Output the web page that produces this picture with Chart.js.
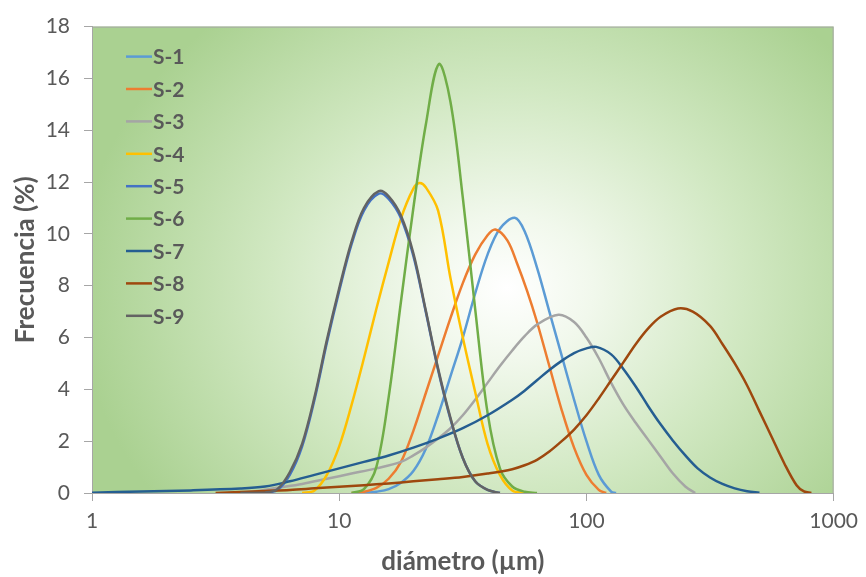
<!DOCTYPE html>
<html>
<head>
<meta charset="utf-8">
<script src="https://cdn.jsdelivr.net/npm/chart.js@4.4.1/dist/chart.umd.min.js"></script>
<style>
  html, body { margin: 0; padding: 0; background: #ffffff; }
  #wrap { width: 866px; height: 577px; }
</style>
</head>
<body>
<div id="wrap"><canvas id="chart" width="866" height="577"></canvas></div>
<script>
// Particle size distributions: diameter (µm) vs. volume frequency (%)
const seriesNames = ['S-1', 'S-2', 'S-3', 'S-4', 'S-5', 'S-6', 'S-7', 'S-8', 'S-9'];
const seriesColors = ['#5B9BD5', '#ED7D31', '#A5A5A5', '#FFC000', '#4472C4', '#70AD47', '#255E91', '#9E480E', '#636363'];

const s1Diam = [12.59, 14.13, 15.85, 17.78, 19.95, 22.39, 25.12, 28.18, 31.62, 35.48, 39.81, 44.67, 51.29, 56.23, 63.10, 70.79, 79.43, 89.13, 100.0, 112.2, 125.9, 131.8];
const s1Freq = [0, 0.05, 0.15, 0.4, 0.85, 1.7, 3.0, 4.5, 6.0, 7.7, 9.2, 10.2, 10.62, 10.1, 8.7, 7.0, 5.3, 3.6, 2.0, 0.7, 0.05, 0];

const s2Diam = [11.22, 12.59, 14.13, 15.85, 17.78, 19.95, 22.39, 25.12, 28.18, 31.62, 35.48, 39.81, 42.85, 47.86, 52.48, 57.54, 63.10, 70.79, 79.43, 89.13, 100.0, 112.2, 120.2];
const s2Freq = [0, 0.05, 0.2, 0.55, 1.2, 2.4, 3.85, 5.3, 6.75, 8.1, 9.2, 9.95, 10.17, 9.75, 8.85, 7.8, 6.6, 4.9, 3.2, 1.75, 0.7, 0.12, 0];

const s3Diam = [3.548, 4.467, 5.623, 7.079, 8.913, 11.22, 14.13, 17.78, 19.95, 22.39, 25.12, 28.18, 31.62, 35.48, 39.81, 44.67, 50.12, 56.23, 63.10, 77.09, 89.13, 100.0, 112.2, 125.9, 141.3, 158.5, 177.8, 199.5, 223.9, 251.2, 275.4];
const s3Freq = [0, 0.05, 0.2, 0.35, 0.55, 0.75, 0.95, 1.2, 1.45, 1.75, 2.1, 2.5, 3.0, 3.6, 4.25, 4.9, 5.5, 6.05, 6.5, 6.88, 6.6, 6.0, 5.2, 4.25, 3.4, 2.7, 2.05, 1.4, 0.75, 0.25, 0];

const s4Diam = [7.079, 7.943, 8.913, 10.0, 11.22, 12.59, 14.13, 15.85, 17.78, 19.95, 21.13, 22.39, 25.12, 28.18, 31.62, 35.48, 39.81, 44.67, 50.12, 56.23];
const s4Freq = [0, 0.1, 0.7, 1.8, 3.4, 5.2, 7.1, 8.9, 10.6, 11.75, 11.96, 11.8, 10.9, 8.3, 6.0, 3.9, 1.9, 0.7, 0.1, 0];

const s5Diam = [3.981, 5.012, 5.623, 6.310, 7.079, 7.943, 8.913, 10.0, 11.22, 12.59, 14.45, 15.85, 17.78, 19.95, 22.39, 25.12, 28.18, 31.62, 35.48, 39.81, 44.67];
const s5Freq = [0, 0.02, 0.12, 0.7, 1.8, 3.6, 5.8, 7.8, 9.6, 10.9, 11.55, 11.35, 10.6, 9.15, 7.0, 4.75, 2.85, 1.35, 0.45, 0.12, 0];

const s6Diam = [11.22, 12.59, 14.13, 15.85, 17.78, 19.95, 22.39, 25.29, 28.18, 31.62, 35.48, 39.81, 44.67, 50.12, 56.23, 63.10];
const s6Freq = [0, 0.15, 1.0, 3.7, 7.4, 11.0, 14.2, 16.55, 15.1, 11.4, 7.1, 3.1, 0.95, 0.25, 0.05, 0];

const s7Diam = [1.0, 1.585, 2.512, 3.981, 5.012, 6.310, 7.943, 10.0, 12.59, 15.85, 19.95, 25.12, 31.62, 39.81, 50.12, 56.23, 63.10, 70.79, 79.43, 89.13, 100.0, 109.6, 125.9, 141.3, 158.5, 177.8, 199.5, 223.9, 251.2, 281.8, 316.2, 354.8, 398.1, 446.7, 501.2];
const s7Freq = [0.01, 0.06, 0.1, 0.17, 0.25, 0.45, 0.7, 0.95, 1.2, 1.45, 1.75, 2.1, 2.5, 3.0, 3.6, 3.95, 4.35, 4.75, 5.1, 5.4, 5.58, 5.64, 5.35, 4.78, 4.1, 3.35, 2.65, 2.02, 1.45, 0.95, 0.6, 0.35, 0.18, 0.07, 0.01];

const s8Diam = [3.162, 3.981, 5.012, 6.310, 7.943, 10.0, 12.59, 15.85, 19.95, 25.12, 31.62, 39.81, 50.12, 56.23, 63.10, 70.79, 79.43, 89.13, 100.0, 112.2, 125.9, 141.3, 158.5, 177.8, 199.5, 234.4, 269.2, 316.2, 354.8, 398.1, 446.7, 501.2, 562.3, 631.0, 707.9, 758.6, 812.8];
const s8Freq = [0, 0.04, 0.08, 0.12, 0.18, 0.24, 0.3, 0.37, 0.45, 0.53, 0.62, 0.75, 0.92, 1.07, 1.28, 1.6, 2.0, 2.45, 3.0, 3.65, 4.35, 5.05, 5.75, 6.35, 6.8, 7.12, 7.0, 6.45, 5.75, 5.0, 4.15, 3.15, 2.15, 1.15, 0.3, 0.06, 0];

const s9Diam = [3.981, 5.012, 5.623, 6.310, 7.079, 7.943, 8.913, 10.0, 11.22, 12.59, 14.45, 15.85, 17.78, 19.95, 22.39, 25.12, 28.18, 31.62, 35.48, 39.81, 44.67];
const s9Freq = [0, 0.02, 0.15, 0.8, 1.9, 3.7, 5.9, 7.9, 9.7, 11.0, 11.65, 11.45, 10.7, 9.25, 7.05, 4.8, 2.9, 1.35, 0.45, 0.12, 0];

const xTickValues = [1, 10, 100, 1000];
const yTickMax = 18;
const yTickStep = 2;

const diamLists = [s1Diam, s2Diam, s3Diam, s4Diam, s5Diam, s6Diam, s7Diam, s8Diam, s9Diam];
const freqLists = [s1Freq, s2Freq, s3Freq, s4Freq, s5Freq, s6Freq, s7Freq, s8Freq, s9Freq];

const datasets = seriesNames.map((name, i) => ({
  label: name,
  data: diamLists[i].map((d, k) => ({ x: d, y: freqLists[i][k] })),
  borderColor: seriesColors[i],
  backgroundColor: seriesColors[i],
  borderWidth: 2.5,
  pointRadius: 0,
  fill: false,
  tension: 0.35,
  // later samples are painted over earlier ones
  order: seriesNames.length - i
}));

const textColor = '#595959';
const axisColor = '#A6A6A6';

// soft radial green fill behind the plot
const plotBackground = {
  id: 'plotBackground',
  beforeDraw(chart) {
    const { ctx, chartArea: a } = chart;
    const cx = a.left + (a.right - a.left) * 0.56;
    const cy = a.top + (a.bottom - a.top) * 0.56;
    const rx = (a.right - a.left) * 0.58;
    const ry = (a.bottom - a.top) * 0.78;
    ctx.save();
    ctx.beginPath();
    ctx.rect(a.left, a.top, a.right - a.left, a.bottom - a.top);
    ctx.clip();
    ctx.translate(cx, cy);
    ctx.scale(1, ry / rx);
    const g = ctx.createRadialGradient(0, 0, 0, 0, 0, rx);
    g.addColorStop(0, '#ffffff');
    g.addColorStop(0.2, '#f1f8ec');
    g.addColorStop(0.55, '#d1e8c2');
    g.addColorStop(1, '#aad191');
    ctx.fillStyle = g;
    ctx.fillRect(-cx, -cy * rx / ry - 2000, 4000, 6000);
    ctx.restore();
    ctx.save();
    ctx.strokeStyle = axisColor;
    ctx.lineWidth = 1;
    ctx.strokeRect(a.left + 0.5, a.top + 0.5, a.right - a.left - 1, a.bottom - a.top);
    ctx.restore();
  }
};

// vertical legend in the upper-left corner of the plot
const cornerLegend = {
  id: 'cornerLegend',
  afterDraw(chart) {
    const { ctx, chartArea: a } = chart;
    const x0 = a.left + 34;
    const y0 = a.top + 30;
    const gap = 32.4;
    ctx.save();
    ctx.font = 'bold 21px Lato, "Open Sans", sans-serif';
    ctx.textBaseline = 'middle';
    ctx.textAlign = 'left';
    chart.data.datasets.forEach((ds, i) => {
      const y = y0 + i * gap;
      ctx.strokeStyle = ds.borderColor;
      ctx.lineWidth = 2.5;
      ctx.beginPath();
      ctx.moveTo(x0, y);
      ctx.lineTo(x0 + 26, y);
      ctx.stroke();
      ctx.fillStyle = textColor;
      ctx.fillText(ds.label, x0 + 27, y + 1);
    });
    ctx.restore();
  }
};

new Chart(document.getElementById('chart'), {
  type: 'line',
  data: { datasets },
  plugins: [plotBackground, cornerLegend],
  options: {
    responsive: false,
    animation: false,
    devicePixelRatio: 1,
    layout: { padding: { top: 26, right: 30, left: 0, bottom: 0 } },
    plugins: {
      legend: { display: false },
      tooltip: { enabled: false }
    },
    scales: {
      x: {
        type: 'logarithmic',
        min: 1,
        max: 1000,
        afterBuildTicks(scale) {
          scale.ticks = xTickValues.map(v => ({ value: v }));
        },
        afterFit(scale) { scale.height = 84; },
        ticks: {
          autoSkip: false,
          maxRotation: 0,
          padding: 8,
          color: textColor,
          font: { family: 'Lato, "Open Sans", sans-serif', size: 21 },
          callback: v => String(v)
        },
        grid: { display: true, drawOnChartArea: false, drawTicks: true, tickLength: 8, color: axisColor },
        border: { display: true, color: axisColor, width: 1 },
        title: {
          display: true,
          text: 'diámetro (µm)',
          color: textColor,
          font: { family: 'Lato, "Open Sans", sans-serif', size: 26, weight: 'bold' },
          padding: { top: 0, bottom: 0 }
        }
      },
      y: {
        min: 0,
        max: yTickMax,
        afterFit(scale) { scale.width = 92; },
        ticks: {
          stepSize: yTickStep,
          padding: 14,
          color: textColor,
          font: { family: 'Lato, "Open Sans", sans-serif', size: 21 }
        },
        grid: { display: true, drawOnChartArea: false, drawTicks: true, tickLength: 8, color: axisColor },
        border: { display: true, color: axisColor, width: 1 },
        title: {
          display: true,
          text: 'Frecuencia (%)',
          color: textColor,
          font: { family: 'Lato, "Open Sans", sans-serif', size: 26, weight: 'bold' },
          padding: { top: 10, bottom: 0 }
        }
      }
    }
  }
});
</script>
</body>
</html>
